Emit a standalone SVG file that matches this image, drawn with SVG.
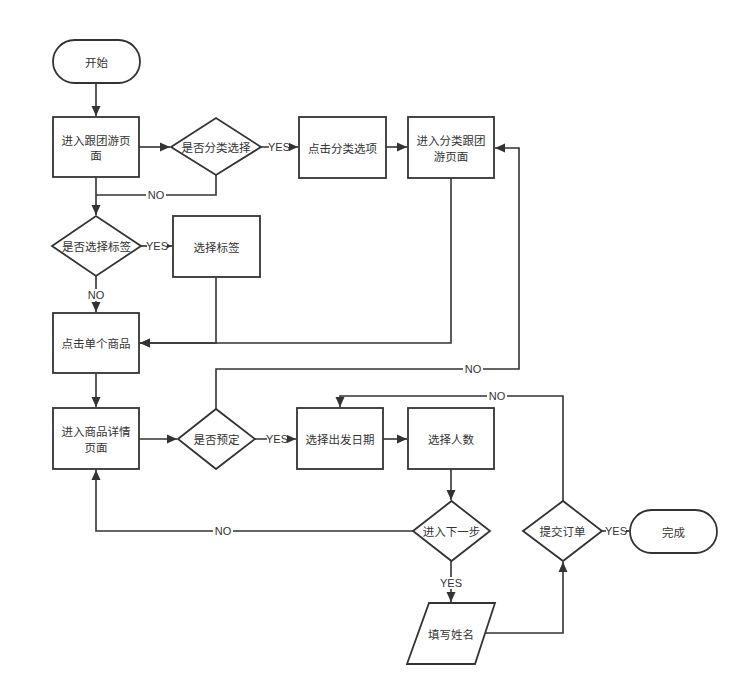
<svg xmlns="http://www.w3.org/2000/svg" width="756" height="699" viewBox="0 0 756 699">
<style>
.s{fill:#fff;stroke:#333;stroke-width:1.8}
.t{font-family:"Noto Sans CJK SC","Liberation Sans",sans-serif;font-size:11.5px;fill:#333;text-anchor:middle;dominant-baseline:central}
.c{fill:none;stroke:#333;stroke-width:1.6}
.a{marker-end:url(#ah)}
.lb{fill:#fff}
.l{font-family:"Liberation Sans","Noto Sans CJK SC",sans-serif;font-size:11px;fill:#333;text-anchor:middle;dominant-baseline:central}
</style>
<defs>
<marker id="ah" markerUnits="userSpaceOnUse" markerWidth="11" markerHeight="10" refX="10" refY="5" orient="auto">
<path d="M0,0.5 L10,5 L0,9.5 z" fill="#333"/>
</marker>
</defs>
<rect width="756" height="699" fill="#fff"/>
<g id="connectors">
<path class="c a" d="M96,83 V116"/>
<path class="c a" d="M139,147 H170"/>
<path class="c a" d="M261,147 H298"/>
<path class="c a" d="M386,147 H407"/>
<path class="c a" d="M96,177 V215"/>
<path class="c" d="M216,175 V195 H96"/>
<path class="c a" d="M141,246 H172"/>
<path class="c a" d="M96,276 V312"/>
<path class="c a" d="M216,277 V343 H140"/>
<path class="c a" d="M451,178 V343 H140"/>
<path class="c a" d="M96,373 V407"/>
<path class="c a" d="M139,439 H177"/>
<path class="c a" d="M255,439 H296"/>
<path class="c a" d="M216,409 V369 H519 V148 H495"/>
<path class="c a" d="M383,439 H407"/>
<path class="c a" d="M451,469 V500"/>
<path class="c a" d="M413,531 H96 V470"/>
<path class="c a" d="M451,561 V602"/>
<path class="c a" d="M485,633 H563 V562"/>
<path class="c a" d="M563,501 V396 H340 V407"/>
<path class="c a" d="M602,531 H629"/>
<rect class="lb" x="146" y="189" width="20" height="12"/><text class="l" x="156" y="195">NO</text>
<rect class="lb" x="269" y="141" width="20" height="12"/><text class="l" x="279" y="147">YES</text>
<rect class="lb" x="147" y="240" width="20" height="12"/><text class="l" x="157" y="246">YES</text>
<rect class="lb" x="86" y="289" width="20" height="12"/><text class="l" x="96" y="295">NO</text>
<rect class="lb" x="267" y="433" width="20" height="12"/><text class="l" x="277" y="439">YES</text>
<rect class="lb" x="463" y="363" width="20" height="12"/><text class="l" x="473" y="369">NO</text>
<rect class="lb" x="487" y="390" width="20" height="12"/><text class="l" x="497" y="396">NO</text>
<rect class="lb" x="213" y="525" width="20" height="12"/><text class="l" x="223" y="531">NO</text>
<rect class="lb" x="441" y="577" width="20" height="12"/><text class="l" x="451" y="583">YES</text>
<rect class="lb" x="606" y="525" width="20" height="12"/><text class="l" x="616" y="531">YES</text>
</g>
<g id="start"><rect class="s" x="53" y="40" width="87" height="43" rx="21.5"/><text class="t" x="96.5" y="61.5">开始</text></g>
<g id="n1"><rect class="s" x="53" y="117" width="86" height="60"/><text class="t" x="96" y="139.5">进入跟团游页</text><text class="t" x="96" y="155">面</text></g>
<g id="d1"><polygon class="s" points="171,147 216,118 261,147 216,175"/><text class="t" x="216" y="147">是否分类选择</text></g>
<g id="n2"><rect class="s" x="299" y="117" width="87" height="61"/><text class="t" x="342.5" y="147.5">点击分类选项</text></g>
<g id="n3"><rect class="s" x="408" y="117" width="86" height="61"/><text class="t" x="451" y="140">进入分类跟团</text><text class="t" x="451" y="155.5">游页面</text></g>
<g id="d2"><polygon class="s" points="52,246 96,216 141,246 96,276"/><text class="t" x="96.5" y="246">是否选择标签</text></g>
<g id="n4"><rect class="s" x="173" y="216" width="87" height="61"/><text class="t" x="216.5" y="246.5">选择标签</text></g>
<g id="n5"><rect class="s" x="53" y="313" width="86" height="60"/><text class="t" x="96" y="343">点击单个商品</text></g>
<g id="n6"><rect class="s" x="53" y="408" width="86" height="61"/><text class="t" x="96" y="431">进入商品详情</text><text class="t" x="96" y="446.5">页面</text></g>
<g id="d3"><polygon class="s" points="178,439 216,409 255,439 216,469"/><text class="t" x="216.5" y="439">是否预定</text></g>
<g id="n7"><rect class="s" x="297" y="408" width="86" height="61"/><text class="t" x="340" y="438.5">选择出发日期</text></g>
<g id="n8"><rect class="s" x="408" y="408" width="86" height="61"/><text class="t" x="451" y="438.5">选择人数</text></g>
<g id="d4"><polygon class="s" points="413,531 451.5,501 490,531 451.5,561"/><text class="t" x="451.5" y="531">进入下一步</text></g>
<g id="n9"><polygon class="s" points="429,603 495,603 475,664 407,664"/><text class="t" x="451" y="633.5">填写姓名</text></g>
<g id="d5"><polygon class="s" points="523,531 563,501 602,531 563,561"/><text class="t" x="562.5" y="531">提交订单</text></g>
<g id="end"><rect class="s" x="630" y="510" width="87" height="43" rx="21.5"/><text class="t" x="673.5" y="531.5">完成</text></g>
</svg>
